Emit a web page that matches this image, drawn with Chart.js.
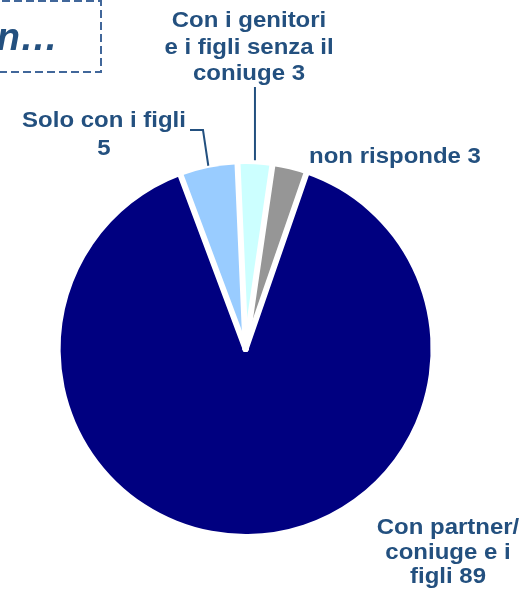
<!DOCTYPE html>
<html>
<head>
<meta charset="utf-8">
<script src="https://cdn.jsdelivr.net/npm/chart.js@4"></script>
<style>
  html, body { margin: 0; padding: 0; background: #fff; }
  #wrap { position: relative; width: 520px; height: 593px; }
</style>
</head>
<body>
<div id="wrap"><canvas id="pieChart"></canvas></div>
<script>
// data
const categories = ['Solo con i figli', 'Con i genitori e i figli senza il coniuge', 'non risponde', 'Con partner/coniuge e i figli'];
const values = [5, 3, 3, 89];
const colors = ['#99ccff', '#ccffff', '#969696', '#000080'];

// label text, one entry per slice, split in lines as on the slide
const labelLines = [
  ['Solo con i figli', '5'],
  ['Con i genitori', 'e i figli senza il', 'coniuge 3'],
  ['non risponde 3'],
  ['Con partner/', 'coniuge e i', 'figli 89']
];

// where each label block sits (center x, first baseline y, line step)
const labelPlace = [
  { x: 104, y: 127, step: 28 },
  { x: 249, y: 27, step: 26.5 },
  { x: 395, y: 163, step: 26 },
  { x: 448, y: 534, step: 24.5 }
];

const textColor = '#23507f';
const gapWidth = 6;

// white gaps between the slices, drawn along each slice edge
const gapsPlugin = {
  id: 'sliceGaps',
  afterDatasetsDraw(chart) {
    const ctx = chart.ctx;
    const arcs = chart.getDatasetMeta(0).data;
    ctx.save();
    ctx.strokeStyle = '#ffffff';
    ctx.lineWidth = gapWidth;
    ctx.lineCap = 'round';
    arcs.forEach(a => {
      const p = a.getProps(['x', 'y', 'startAngle', 'outerRadius']);
      ctx.beginPath();
      ctx.moveTo(p.x, p.y);
      ctx.lineTo(p.x + Math.cos(p.startAngle) * (p.outerRadius + 6), p.y + Math.sin(p.startAngle) * (p.outerRadius + 6));
      ctx.stroke();
    });
    ctx.restore();
  }
};

const labelsPlugin = {
  id: 'slideLabels',
  afterDraw(chart) {
    const ctx = chart.ctx;
    ctx.save();
    ctx.font = 'bold 22px "Liberation Sans", Arial, sans-serif';
    ctx.fillStyle = textColor;
    ctx.textAlign = 'center';
    ctx.textBaseline = 'alphabetic';
    labelLines.forEach((lines, i) => {
      const p = labelPlace[i];
      lines.forEach((t, j) => {
        ctx.save();
        ctx.translate(p.x, p.y + j * p.step);
        ctx.scale(1.09, 1);
        ctx.fillText(t, 0, 0);
        ctx.restore();
      });
    });

    // leader lines to the two thin slices
    const arcs = chart.getDatasetMeta(0).data;
    ctx.strokeStyle = textColor;
    ctx.lineWidth = 2;
    const a0 = arcs[0].getProps(['x', 'y', 'startAngle', 'endAngle', 'outerRadius']);
    const m0 = (a0.startAngle + a0.endAngle) / 2;
    ctx.beginPath();
    ctx.moveTo(190, 130);
    ctx.lineTo(203, 130);
    ctx.lineTo(a0.x + Math.cos(m0) * (a0.outerRadius + 2), a0.y + Math.sin(m0) * (a0.outerRadius + 2));
    ctx.stroke();
    const a1 = arcs[1].getProps(['x', 'y', 'startAngle', 'endAngle', 'outerRadius']);
    const m1 = (a1.startAngle + a1.endAngle) / 2;
    const lx = a1.x + Math.cos(m1) * a1.outerRadius;
    ctx.beginPath();
    ctx.moveTo(lx, 87);
    ctx.lineTo(lx, a1.y + Math.sin(m1) * (a1.outerRadius + 4));
    ctx.stroke();

    // cut-off title box in the top-left corner
    ctx.setLineDash([8, 4]);
    ctx.strokeStyle = '#41679a';
    ctx.lineWidth = 2;
    ctx.strokeRect(-10, 1, 111, 71);
    ctx.setLineDash([]);
    ctx.font = 'italic bold 38px "Liberation Sans", Arial, sans-serif';
    ctx.textAlign = 'right';
    ctx.fillStyle = textColor;
    ctx.fillText('n\u2026', 58, 50);
    ctx.restore();
  }
};

new Chart(document.getElementById('pieChart').getContext('2d'), {
  type: 'pie',
  data: {
    labels: categories,
    datasets: [{
      data: values,
      backgroundColor: colors,
      borderWidth: 0,
      hoverOffset: 0
    }]
  },
  options: {
    responsive: true,
    maintainAspectRatio: false,
    animation: false,
    rotation: -20.5,
    layout: { padding: { left: 60.6, right: 89.4, top: 164, bottom: 59 } },
    plugins: {
      legend: { display: false },
      tooltip: { enabled: false },
      title: { display: false }
    }
  },
  plugins: [gapsPlugin, labelsPlugin]
});
</script>
</body>
</html>
